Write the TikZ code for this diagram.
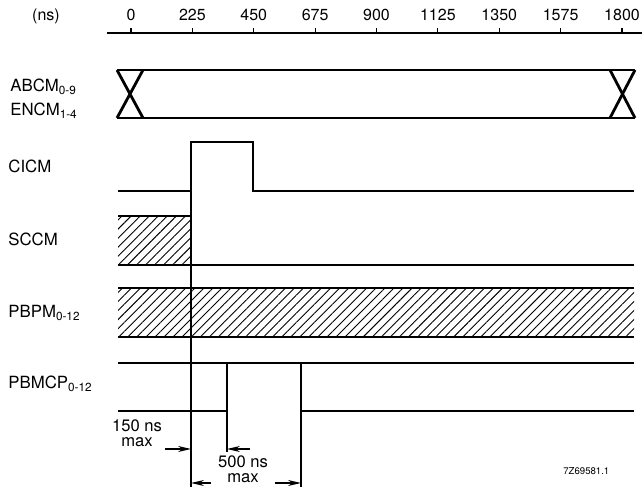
\documentclass[tikz,border=0pt]{standalone}
\usepackage{fontspec}
\setmainfont{TeX Gyre Heros}
\usetikzlibrary{arrows.meta,patterns.meta}

\tikzset{
  sig/.style={line width=1.4pt},
  axisline/.style={line width=0.6pt},
  guide/.style={line width=0.55pt},
  hatch/.style={pattern={Lines[angle=45,distance=3.2pt,line width=0.45pt]}},
  dim/.style={line width=0.75pt,-{Stealth[length=6.5pt,width=3pt]}},
  siglabel/.style={anchor=base west,inner sep=0pt,font=\fontsize{8.4}{10}\selectfont},
  ticklabel/.style={anchor=base,inner sep=0pt,font=\fontsize{8}{9}\selectfont},
  note/.style={anchor=base,inner sep=0pt,align=center,font=\fontsize{8.3}{7.8}\selectfont}
}

\begin{document}
\begin{tikzpicture}[x=0.5pt,y=-0.5pt]
\useasboundingbox (0,0) rectangle (642,501);

% Time axis
\draw[axisline] (107,33) -- (642,33);
\node[ticklabel] (unit) at (46,21) {(ns)};
\foreach \t [count=\i from 0] in {0,225,450,675,900,1125,1350,1575,1800} {
  \draw[axisline] ({131+61.375*\i},33) -- ++(0,-5);
  \node[ticklabel] (tick\i) at ({131+61.375*\i},21) {\t};
}

% Signal names
\node[siglabel] (abcm) at (10,92) {ABCM\textsubscript{0-9}};
\node[siglabel] (encm) at (10,116) {ENCM\textsubscript{1-4}};
\node[siglabel] (cicm) at (8,173) {CICM};
\node[siglabel] (sccm) at (8,246) {SCCM};
\node[siglabel] (pbpm) at (8,318) {PBPM\textsubscript{0-12}};
\node[siglabel] (pbmcp) at (8,389) {PBMCP\textsubscript{0-12}};

% ABCM / ENCM bus
\draw[sig] (117,70) -- (635,70);
\draw[sig] (117,118) -- (635,118);
\draw[sig] (117,70) -- (143,118);
\draw[sig] (143,70) -- (117,118);
\draw[sig] (610,70) -- (635,118);
\draw[sig] (635,70) -- (610,118);

% CICM
\draw[sig] (118,191) -- (191,191) -- (191,142) -- (253,142) -- (253,191) -- (634,191);

% SCCM
\path[hatch] (118,216) rectangle (191,265);
\draw[sig] (118,216) -- (191,216) -- (191,265);
\draw[sig] (118,265) -- (634,265);

% PBPM
\path[hatch] (118,288) rectangle (634,337);
\draw[sig] (118,288) -- (634,288);
\draw[sig] (118,337) -- (634,337);

% PBMCP
\draw[sig] (118,363) -- (634,363);
\draw[sig] (118,411) -- (227,411) -- (227,363);
\draw[sig] (301,363) -- (301,411) -- (634,411);

% Guide lines
\coordinate (g1top) at (191,191);
\coordinate (g1bot) at (191,487);
\coordinate (g2top) at (227,411);
\coordinate (g2bot) at (227,452);
\coordinate (g3top) at (301,411);
\coordinate (g3bot) at (301,487);
\draw[guide] (g1top) -- (g1bot);
\draw[guide] (g2top) -- (g2bot);
\draw[guide] (g3top) -- (g3bot);

% 150 ns max
\coordinate (a1) at (191,449);
\coordinate (a2) at (227,449);
\draw[dim] (a1) ++(-26,0) -- (a1);
\draw[dim] (a2) ++(23,0) -- (a2);
\node[note] (t150) at (137,447) {150 ns\\max};

% 500 ns max
\coordinate (b1) at (191,483);
\coordinate (b2) at (301,483);
\draw[dim] (b1) ++(20,0) -- (b1);
\draw[dim] (b2) ++(-26,0) -- (b2);
\node[note] (t500) at (243,483) {500 ns\\max};

% Figure code
\node[anchor=base west,inner sep=0pt,font=\fontsize{4.8}{6}\selectfont] (code) at (563,475) {7Z69581.1};
\end{tikzpicture}
\end{document}
